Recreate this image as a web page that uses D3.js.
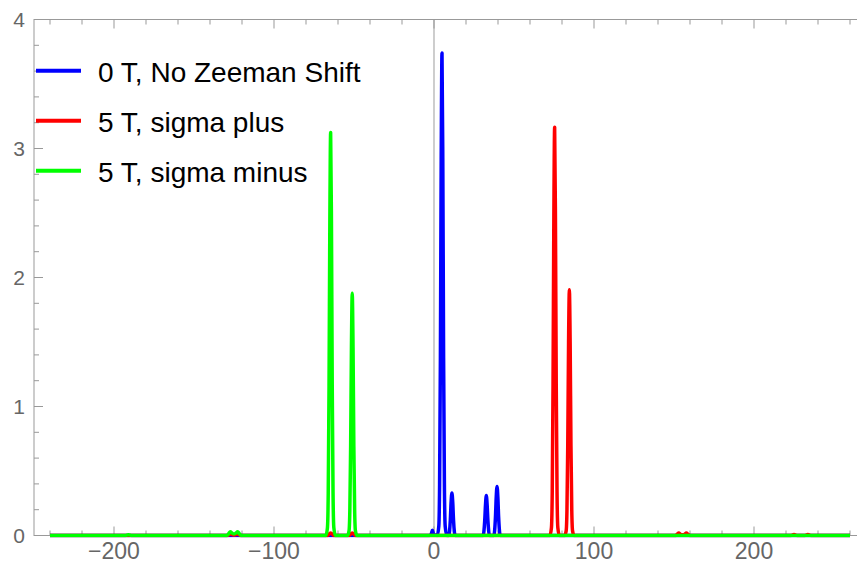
<!DOCTYPE html>
<html><head><meta charset="utf-8">
<script src="https://cdn.jsdelivr.net/npm/d3@7"></script>
<style>body{margin:0;background:#fff}svg{display:block}</style>
</head><body>
<svg id="c" width="857" height="570"></svg>
<script>
// ---- data ----
const seriesNames = ["0 T, No Zeeman Shift", "5 T, sigma plus", "5 T, sigma minus"];
const seriesColors = ["#0000ff", "#ff0000", "#00ff00"];

const zeroT = [[-240,0],[-3,0],[-1.8,0.01],[-1,0.04],[-0.2,0.01],[2,0],[3,0.07],[3.5,0.4],[4,1.38],[4.5,2.92],[5,3.74],[5.5,2.92],[6,1.38],[6.5,0.4],[7,0.07],[8,0],
 [9.2,0],[10.2,0.12],[10.7,0.26],[11.2,0.33],[11.7,0.26],[12.2,0.12],[13.2,0],
 [30.7,0],[31.7,0.115],[32.2,0.24],[32.7,0.31],[33.2,0.24],[33.7,0.115],[34.7,0],
 [37.4,0],[38.4,0.14],[38.9,0.3],[39.4,0.38],[39.9,0.3],[40.4,0.14],[41.4,0],[260,0]];

const sigmaPlus = [[-240,0],[-129.5,0],[-127.3,0.01],[-125,0.003],[-122.7,0.01],[-120.5,0],
 [-66.8,0],[-64.6,0.02],[-62.4,0],[-53.3,0],[-51.1,0.02],[-48.9,0],
 [72.4,0],[73.4,0.06],[73.9,0.34],[74.4,1.17],[74.9,2.47],[75.4,3.165],[75.9,2.47],[76.4,1.17],[76.9,0.34],[77.4,0.06],[78.4,0],
 [81.6,0],[82.6,0.036],[83.1,0.2],[83.6,0.7],[84.1,1.49],[84.6,1.905],[85.1,1.49],[85.6,0.7],[86.1,0.2],[86.6,0.036],[87.6,0],
 [151,0],[152,0.01],[153,0.02],[154,0.01],[155.3,0.005],[156.7,0.01],[157.7,0.02],[158.7,0.01],[160,0],
 [223,0],[225,0.008],[227,0],[231.7,0],[233.7,0.008],[235.7,0],[260,0]];

const sigmaMinus = [[-240,0],[-193,0],[-191,0.006],[-189,0],
 [-129.5,0],[-128.3,0.015],[-127.3,0.03],[-126.3,0.02],[-125,0.012],[-123.7,0.02],[-122.7,0.03],[-121.7,0.015],[-120.5,0],
 [-67.6,0],[-66.6,0.06],[-66.1,0.33],[-65.6,1.16],[-65.1,2.44],[-64.6,3.124],[-64.1,2.44],[-63.6,1.16],[-63.1,0.33],[-62.6,0.06],[-61.6,0],
 [-54.1,0],[-53.1,0.036],[-52.6,0.2],[-52.1,0.69],[-51.6,1.46],[-51.1,1.877],[-50.6,1.46],[-50.1,0.69],[-49.6,0.2],[-49.1,0.036],[-48.1,0],[260,0]];

const xTickLabels = [-200, -100, 0, 100, 200];
const yTickLabels = [0, 1, 2, 3, 4];

// ---- drawing ----
const svg = d3.select("#c");
const pL = 34, pR = 866, pT = 19.5, pB = 535.5;
const x = d3.scaleLinear().domain([-250, 270]).range([pL, pR]);
const y = d3.scaleLinear().domain([0, 4]).range([pB, pT]);
const frameColor = "#999";
const labelColor = "#666";
const font = "'Liberation Sans', Arial, sans-serif";

svg.append("clipPath").attr("id","clip").append("rect")
  .attr("x", pL).attr("y", pT - 2).attr("width", pR - pL).attr("height", pB - pT + 4);

// x=0 axis line
svg.append("line").attr("x1", x(0)).attr("x2", x(0)).attr("y1", pT).attr("y2", pB)
  .attr("stroke", "#b3b3b3").attr("stroke-width", 1.3);

// frame
const fr = svg.append("g").attr("stroke", frameColor).attr("stroke-width", 1).attr("fill","none");
fr.append("rect").attr("x", pL).attr("y", pT).attr("width", pR - pL).attr("height", pB - pT);

// ticks
const xt = d3.range(-240, 261, 20);
xt.forEach(v => {
  const len = v % 100 === 0 ? 9 : 5;
  fr.append("line").attr("x1", x(v)).attr("x2", x(v)).attr("y1", pB).attr("y2", pB - len);
  fr.append("line").attr("x1", x(v)).attr("x2", x(v)).attr("y1", pT).attr("y2", pT + len);
});
const yt = d3.range(0, 20.5, 1).map(i => i * 0.2);
yt.forEach((v, i) => {
  const len = i % 5 === 0 ? 9 : 5;
  fr.append("line").attr("x1", pL).attr("x2", pL + len).attr("y1", y(v)).attr("y2", y(v));
});

// tick labels
svg.append("g").selectAll("text").data(xTickLabels).join("text")
  .attr("x", d => x(d)).attr("y", 559).attr("text-anchor", "middle")
  .attr("font-family", font).attr("font-size", 23).attr("fill", labelColor)
  .text(d => d < 0 ? "\u2212" + Math.abs(d) : d);
svg.append("g").selectAll("text").data(yTickLabels).join("text")
  .attr("x", 25).attr("y", d => y(d) + 7.5).attr("text-anchor", "end")
  .attr("font-family", font).attr("font-size", 21).attr("fill", labelColor)
  .text(d => d);

// series
const line = d3.line().x(d => x(d[0])).y(d => y(d[1])).curve(d3.curveMonotoneX);
const g = svg.append("g").attr("clip-path", "url(#clip)");
[zeroT, sigmaPlus, sigmaMinus].forEach((s, i) => {
  g.append("path").datum(s).attr("d", line).attr("fill", "none")
    .attr("stroke", seriesColors[i]).attr("stroke-width", 3.5).attr("stroke-linejoin", "round");
});

// legend
const lg = svg.append("g");
seriesNames.forEach((n, i) => {
  const yy = 70.7 + i * 50;
  lg.append("line").attr("x1", 36).attr("x2", 81).attr("y1", yy).attr("y2", yy)
    .attr("stroke", seriesColors[i]).attr("stroke-width", 4);
  lg.append("text").attr("x", 98).attr("y", yy + 11).attr("font-family", font)
    .attr("font-size", 28).attr("fill", "#000").text(n);
});
</script>
</body></html>
